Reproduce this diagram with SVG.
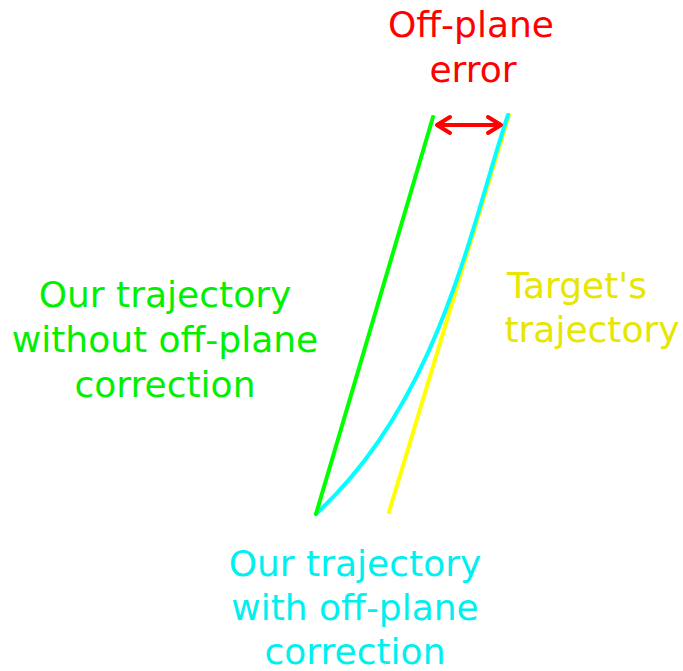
<svg xmlns="http://www.w3.org/2000/svg" width="683" height="671" viewBox="0 0 683 671">
<style>
text{font-family:"DejaVu Sans",sans-serif;font-size:36px;text-anchor:middle}
.g{fill:#00f000}.c{fill:#00f0f0}.y{fill:#e6e600}.r{fill:#ff0000}
.ln{fill:none;stroke-width:4;stroke-linecap:round}
</style>
<defs>
<marker id="ah" viewBox="0 0 20 22" refX="17" refY="11" markerWidth="20" markerHeight="22" markerUnits="userSpaceOnUse" orient="auto-start-reverse">
<path d="M4,3 L17,11 L4,19" fill="none" stroke="#ff0000" stroke-width="4" stroke-linecap="round" stroke-linejoin="round"/>
</marker>
</defs>
<rect width="683" height="671" fill="#fff"/>
<g id="connectors">
<line class="ln" x1="509" y1="115" x2="389" y2="512" stroke="#ffff00"/>
<path class="ln" d="M508,115 C471,225 440,400 316,514" stroke="#00ffff"/>
<line class="ln" x1="433" y1="117" x2="316" y2="514" stroke="#00ff00"/>
<line x1="437" y1="125" x2="501" y2="125" stroke="#ff0000" stroke-width="4" marker-start="url(#ah)" marker-end="url(#ah)"/>
</g>
<g id="offplane-error"><text class="r" x="471" y="37">Off-plane</text><text class="r" x="473" y="82">error</text></g>
<g id="without"><text class="g" x="165" y="307">Our trajectory</text><text class="g" x="165" y="352">without off-plane</text><text class="g" x="165" y="397">correction</text></g>
<g id="target"><text class="y" x="577" y="298">Target's</text><text class="y" x="592" y="342">trajectory</text></g>
<g id="with"><text class="c" x="355" y="576">Our trajectory</text><text class="c" x="355" y="620">with off-plane</text><text class="c" x="355" y="664">correction</text></g>
</svg>
